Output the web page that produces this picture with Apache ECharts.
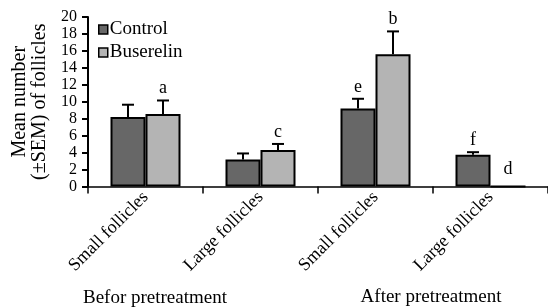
<!DOCTYPE html>
<html>
<head>
<meta charset="utf-8">
<script src="https://cdn.jsdelivr.net/npm/echarts@6/dist/echarts.min.js"></script>
<style>
html,body{margin:0;padding:0;background:#fff;}
#c{width:548px;height:308px;}
</style>
</head>
<body>
<div id="c"></div>
<script>
const categories = ['Small follicles', 'Large follicles', 'Small follicles', 'Large follicles'];
const seriesNames = ['Control', 'Buserelin'];
const controlValues = [8.2, 3.2, 9.2, 3.75];
const controlSem = [1.45, 0.7, 1.15, 0.3];
const controlLetters = ['', '', 'e', 'f'];
const buserelinValues = [8.55, 4.3, 15.6, 0];
const buserelinSem = [1.6, 0.72, 2.7, 0];
const buserelinLetters = ['a', 'c', 'b', 'd'];
const groupLabels = ['Befor pretreatment', 'After pretreatment'];
const yTicks = [0, 20, 2];

const FONT = "'Liberation Serif', 'Times New Roman', serif";
const BAR_W = 35;

const chart = echarts.init(document.getElementById('c'));

function errorSeries(values, sems, letters, sideOffset) {
  return {
    type: 'custom',
    z: 5,
    data: values.map((v, i) => [i, v, sems[i]]),
    renderItem: function (params, api) {
      const i = api.value(0);
      const v = api.value(1);
      const s = api.value(2);
      const letter = letters[i];
      const base = api.coord([i, v]);
      const top = api.coord([i, v + s]);
      const x = base[0] + sideOffset;
      const children = [];
      if (s > 0) {
        children.push({
          type: 'line',
          shape: { x1: x, y1: base[1], x2: x, y2: top[1] },
          style: { stroke: '#000', lineWidth: 2 }
        });
        children.push({
          type: 'line',
          shape: { x1: x - 6, y1: top[1], x2: x + 6, y2: top[1] },
          style: { stroke: '#000', lineWidth: 2 }
        });
      }
      if (letter) {
        children.push({
          type: 'text',
          x: x,
          y: top[1] - (s > 0 ? 12 : 17),
          style: {
            text: letter, fill: '#000', font: '18px ' + FONT,
            align: 'center', verticalAlign: 'middle'
          }
        });
      }
      return { type: 'group', children: children };
    }
  };
}

chart.setOption({
  animation: false,
  backgroundColor: '#fff',
  textStyle: { fontFamily: FONT },
  grid: { left: 88, right: 0, top: 17, bottom: 121.5 },
  legend: {
    orient: 'vertical',
    left: 93,
    top: 15,
    itemWidth: 9,
    itemHeight: 9,
    itemGap: 4,
    icon: 'rect',
    data: seriesNames,
    itemStyle: { borderColor: '#000', borderWidth: 1.5 },
    textStyle: { fontSize: 19, fontFamily: FONT, color: '#000', padding: [0, 0, 0, -3] }
  },
  xAxis: {
    type: 'category',
    data: categories,
    axisLine: { lineStyle: { color: '#000', width: 1.5 } },
    axisTick: { show: true, length: 7, lineStyle: { color: '#000', width: 1.5 } },
    axisLabel: {
      rotate: 45, interval: 0, margin: 8,
      fontSize: 18, fontFamily: FONT, color: '#000'
    }
  },
  yAxis: {
    type: 'value',
    min: yTicks[0], max: yTicks[1], interval: yTicks[2],
    name: 'Mean number\n(±SEM) of follicles',
    nameLocation: 'middle',
    nameGap: 33,
    nameTextStyle: { fontSize: 20, fontFamily: FONT, color: '#000', lineHeight: 20 },
    axisLine: { show: true, lineStyle: { color: '#000', width: 2 } },
    axisTick: { show: true, length: 6, lineStyle: { color: '#000', width: 2 } },
    axisLabel: {
      margin: 11, fontSize: 16, fontFamily: FONT, color: '#000',
      showMinLabel: true, showMaxLabel: true
    },
    splitLine: { show: false }
  },
  series: [
    {
      name: seriesNames[0], type: 'bar', data: controlValues,
      barWidth: BAR_W, barGap: '0%',
      itemStyle: { color: '#676767', borderColor: '#000', borderWidth: 2 }
    },
    {
      name: seriesNames[1], type: 'bar', data: buserelinValues,
      barWidth: BAR_W, barGap: '0%',
      itemStyle: { color: '#b4b4b4', borderColor: '#000', borderWidth: 2 }
    },
    errorSeries(controlValues, controlSem, controlLetters, -BAR_W / 2),
    errorSeries(buserelinValues, buserelinSem, buserelinLetters, BAR_W / 2)
  ],
  graphic: [
    { type: 'text', x: 155, y: 298, style: { text: groupLabels[0], font: '19px ' + FONT, fill: '#000', align: 'center', verticalAlign: 'middle' } },
    { type: 'text', x: 431, y: 297, style: { text: groupLabels[1], font: '19px ' + FONT, fill: '#000', align: 'center', verticalAlign: 'middle' } }
  ]
});
</script>
</body>
</html>
